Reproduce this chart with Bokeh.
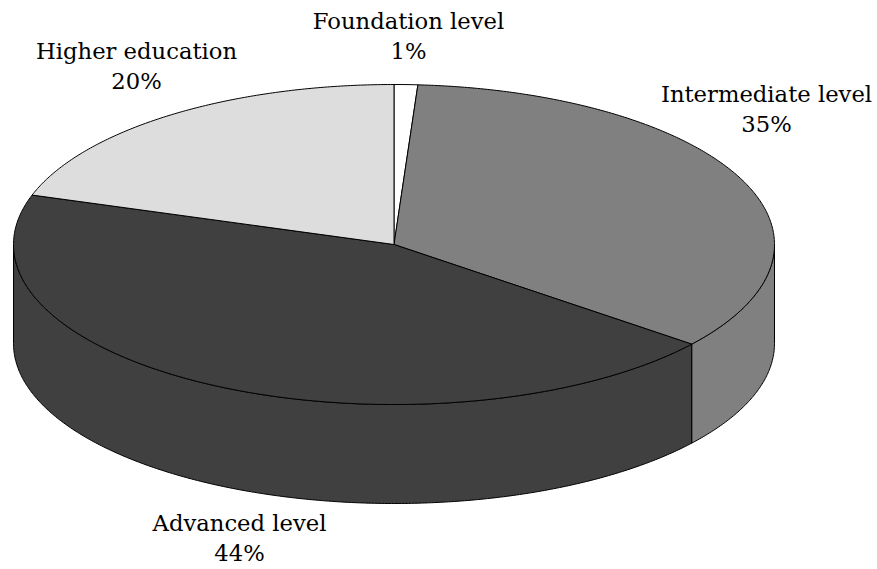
import numpy as np
from bokeh.plotting import figure
from bokeh.models import Range1d
from bokeh.embed import file_html
from bokeh.resources import INLINE
from bokeh.core.properties import value

categories = ["Foundation level", "Intermediate level", "Advanced level", "Higher education"]
shares = [1, 34.7, 44.3, 20]
tick_labels = ["1%", "35%", "44%", "20%"]
colors = ["#ffffff", "#808080", "#404040", "#dddddd"]
label_x = [408, 766, 239, 136]
label_y = [20, 93, 522, 50]

CX, CY, RX, RY, DEPTH = 393.5, 244, 380.5, 160, 99
W, H = 877, 569

p = figure(width=W, height=H, output_backend="svg", toolbar_location=None,
           x_range=Range1d(0, W), y_range=Range1d(H, 0), min_border=0)
p.axis.visible = False
p.grid.visible = False
p.outline_line_color = None


def rim(a0, a1, dy=0.0):
    t = np.radians(np.linspace(a0, a1, max(int(abs(a1 - a0) * 2), 2)))
    return CX + RX * np.sin(t), CY - RY * np.cos(t) + dy


edges = np.concatenate([[0], np.cumsum(shares)]) * 3.6

# side walls: only the front half (90..270 degrees) is visible
for i in range(len(shares)):
    a0, a1 = max(edges[i], 90), min(edges[i + 1], 270)
    if a1 <= a0:
        continue
    tx, ty = rim(a0, a1)
    bx, by = rim(a0, a1, DEPTH)
    p.patch(np.r_[tx, bx[::-1]], np.r_[ty, by[::-1]], fill_color=colors[i],
            line_color="black", line_width=1)

# top faces
for i in range(len(shares)):
    x, y = rim(edges[i], edges[i + 1])
    p.patch(np.r_[CX, x], np.r_[CY, y], fill_color=colors[i], line_color="black", line_width=1)

for name, pct, x, y in zip(categories, tick_labels, label_x, label_y):
    for txt, yy in ((name, y), (pct, y + 30)):
        p.text([x], [yy], text=[txt], text_align="center", text_baseline="middle",
               text_font=value("DejaVu Serif"), text_font_size="22.7px", text_color="black")

open("out.html", "w").write(file_html(p, INLINE))
